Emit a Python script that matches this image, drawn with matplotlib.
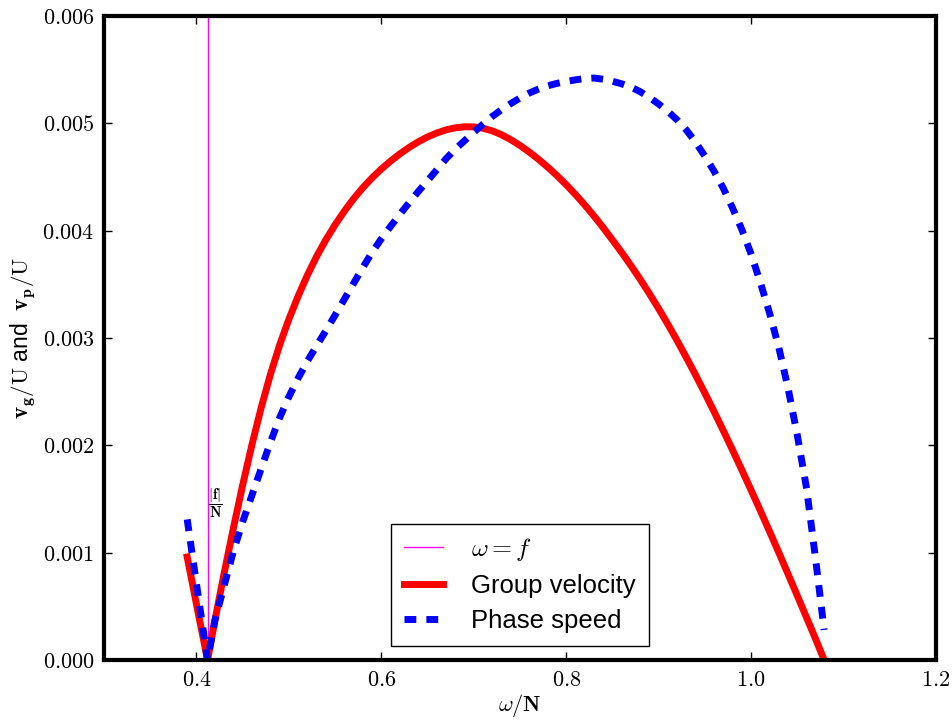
import matplotlib
matplotlib.use("Agg")
import matplotlib.pyplot as plt
from matplotlib.ticker import FuncFormatter

plt.rcParams['font.family'] = ['Liberation Sans', 'DejaVu Sans']
plt.rcParams['mathtext.fontset'] = 'cm'

# ---- data ----
f_over_N = 0.412

omega = [0.390, 0.400, 0.412, 0.420, 0.430, 0.440, 0.450, 0.460, 0.470, 0.480,
         0.490, 0.500, 0.510, 0.520, 0.530, 0.540, 0.550, 0.560, 0.570, 0.580,
         0.590, 0.600, 0.610, 0.620, 0.630, 0.640, 0.650, 0.660, 0.670, 0.680,
         0.690, 0.700, 0.710, 0.720, 0.730, 0.740, 0.750, 0.760, 0.770, 0.780,
         0.790, 0.800, 0.810, 0.820, 0.830, 0.840, 0.850, 0.860, 0.870, 0.880,
         0.890, 0.900, 0.910, 0.920, 0.930, 0.940, 0.950, 0.960, 0.970, 0.980,
         0.990, 1.000, 1.010, 1.020, 1.030, 1.040, 1.050, 1.060, 1.070, 1.079]

group_velocity = [
    0.000960, 0.000520, 0.000000, 0.000370, 0.000810, 0.001230, 0.001630, 0.002005, 0.002350, 0.002660,
    0.002935, 0.003175, 0.003390, 0.003585, 0.003760, 0.003915, 0.004055, 0.004182, 0.004297, 0.004400,
    0.004492, 0.004574, 0.004648, 0.004715, 0.004775, 0.004828, 0.004873, 0.004910, 0.004939, 0.004958,
    0.004968, 0.004967, 0.004954, 0.004930, 0.004894, 0.004848, 0.004794, 0.004733, 0.004665, 0.004592,
    0.004513, 0.004428, 0.004337, 0.004240, 0.004137, 0.004028, 0.003913, 0.003797, 0.003675, 0.003547,
    0.003413, 0.003273, 0.003127, 0.002975, 0.002817, 0.002654, 0.002486, 0.002313, 0.002136, 0.001955,
    0.001770, 0.001582, 0.001391, 0.001197, 0.001000, 0.000800, 0.000598, 0.000395, 0.000191, 0.000000]

phase_speed = [
    0.001310, 0.000710, 0.000000, 0.000370, 0.000693, 0.001013, 0.001288, 0.001535, 0.001782, 0.002028,
    0.002257, 0.002453, 0.002626, 0.002784, 0.002928, 0.003068, 0.003213, 0.003361, 0.003509, 0.003657,
    0.003798, 0.003924, 0.004040, 0.004152, 0.004260, 0.004365, 0.004465, 0.004567, 0.004670, 0.004759,
    0.004838, 0.004917, 0.004993, 0.005064, 0.005127, 0.005184, 0.005236, 0.005282, 0.005319, 0.005350,
    0.005372, 0.005390, 0.005405, 0.005418, 0.005422, 0.005411, 0.005392, 0.005368, 0.005338, 0.005295,
    0.005241, 0.005180, 0.005111, 0.005032, 0.004937, 0.004823, 0.004694, 0.004553, 0.004394, 0.004210,
    0.004010, 0.003782, 0.003517, 0.003231, 0.002910, 0.002532, 0.002093, 0.001599, 0.000924, 0.000280]

x_ticks = [0.4, 0.6, 0.8, 1.0, 1.2]
y_ticks = [0.000, 0.001, 0.002, 0.003, 0.004, 0.005, 0.006]

# ---- figure ----
fig = plt.figure(figsize=(9.53, 7.25), dpi=100)
ax = fig.add_axes([104/953, 65/725, (936-104)/953, (660-16)/725])

ax.axvline(f_over_N, color='#ff00ff', lw=1.0, label=r'$\omega = f$')
ax.plot(omega, group_velocity, color='red', lw=5, label='Group velocity')
ax.plot(omega, phase_speed, color='blue', lw=5, linestyle=(0, (1.7, 1.45)),
        label='Phase speed')

ax.text(f_over_N + 0.0005, 0.00146, r'$\dfrac{|\mathbf{f}|}{\mathbf{N}}$',
        fontsize=10.5, ha='left', va='center')

ax.set_xlim(0.3, 1.2)
ax.set_ylim(0, 0.006)
ax.set_xticks(x_ticks)
ax.set_yticks(y_ticks)
ax.xaxis.set_major_formatter(FuncFormatter(lambda v, p: r'$%.1f$' % v))
ax.yaxis.set_major_formatter(FuncFormatter(lambda v, p: r'$%.3f$' % v))
ax.tick_params(direction='in', length=6, width=1, top=True, right=True,
               labelsize=16, pad=7)

for s in ax.spines.values():
    s.set_linewidth(3)

ax.set_xlabel(r'$\omega/\mathbf{N}$', fontsize=16, labelpad=1)
ax.set_ylabel(r'$\mathbf{v_g}/\mathrm{U}$ and  $\mathbf{v_p}/\mathrm{U}$', fontsize=16.5,
              labelpad=4)

leg = ax.legend(loc='lower center', fontsize=18.5, handlelength=1.5,
                handletextpad=1.1, labelspacing=0.42, borderpad=0.5,
                borderaxespad=0.55, fancybox=False, framealpha=1)
leg.get_frame().set_edgecolor('black')
leg.get_frame().set_linewidth(1.0)

fig.savefig('out.png', dpi=100, facecolor='white')
